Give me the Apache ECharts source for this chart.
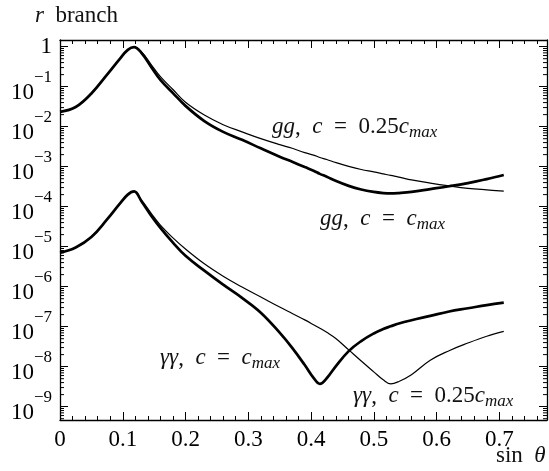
<!DOCTYPE html>
<html>
<head>
<meta charset="utf-8">
<script src="https://cdn.jsdelivr.net/npm/echarts@6/dist/echarts.min.js"></script>
<style>
  html, body { margin: 0; padding: 0; background: #fff; }
  #chart { width: 549px; height: 471px; }
</style>
</head>
<body>
<div id="chart"></div>
<script>
// sin(theta) samples, shared by all four curves
const sinTheta = [0, 0.025, 0.05, 0.075, 0.095, 0.108, 0.118, 0.13, 0.145, 0.16,
  0.18, 0.2, 0.23, 0.26, 0.29, 0.32, 0.35, 0.37, 0.39, 0.404,
  0.414, 0.425, 0.44, 0.46, 0.48, 0.5, 0.515, 0.527, 0.54, 0.56,
  0.59, 0.62, 0.65, 0.68, 0.7071]

// gg, c = c_max (thick)
const ggCmax = [2.34e-2, 3.1e-2, 6.76e-2, 0.2, 0.49, 0.832, 0.977, 0.692, 0.316, 0.148,
  6.92e-2, 3.31e-2, 1.38e-2, 7.41e-3, 4.68e-3, 2.88e-3, 1.78e-3, 1.32e-3, 9.77e-4, 7.94e-4,
  6.61e-4, 5.62e-4, 4.37e-4, 3.31e-4, 2.69e-4, 2.34e-4, 2.19e-4, 2.14e-4, 2.19e-4, 2.34e-4,
  2.75e-4, 3.24e-4, 3.89e-4, 4.90e-4, 6.17e-4]

// gg, c = 0.25 c_max (thin)
const ggQuarter = [2.34e-2, 3.1e-2, 6.76e-2, 0.2, 0.49, 0.832, 0.977, 0.741, 0.363, 0.178,
  8.51e-2, 4.07e-2, 1.95e-2, 1.12e-2, 7.41e-3, 5.01e-3, 3.55e-3, 2.88e-3, 2.24e-3, 1.95e-3,
  1.70e-3, 1.51e-3, 1.26e-3, 1.02e-3, 8.51e-4, 7.41e-4, 6.61e-4, 6.03e-4, 5.50e-4, 4.68e-4,
  3.89e-4, 3.31e-4, 2.88e-4, 2.63e-4, 2.45e-4]

// γγ, c = c_max (thick)
const yyCmax = [7.08e-6, 9.55e-6, 1.74e-5, 4.79e-5, 1.17e-4, 2.0e-4, 2.4e-4, 1.35e-4, 6.03e-5, 2.95e-5,
  1.26e-5, 5.89e-6, 2.51e-6, 1.12e-6, 5.25e-7, 2.24e-7, 7.08e-8, 2.95e-8, 1.10e-8, 5.25e-9,
  3.72e-9, 5.13e-9, 1.05e-8, 2.45e-8, 4.37e-8, 6.76e-8, 8.71e-8, 1.02e-7, 1.20e-7, 1.45e-7,
  1.86e-7, 2.40e-7, 2.88e-7, 3.47e-7, 3.98e-7]

// γγ, c = 0.25 c_max (thin)
const yyQuarter = [7.08e-6, 9.55e-6, 1.74e-5, 4.79e-5, 1.17e-4, 2.0e-4, 2.4e-4, 1.45e-4, 6.92e-5, 3.47e-5,
  1.66e-5, 8.71e-6, 3.72e-6, 1.82e-6, 9.77e-7, 5.50e-7, 3.09e-7, 2.14e-7, 1.48e-7, 1.12e-7,
  9.12e-8, 7.24e-8, 5.01e-8, 2.63e-8, 1.38e-8, 7.41e-9, 4.68e-9, 3.72e-9, 4.27e-9, 6.31e-9,
  1.45e-8, 2.51e-8, 3.89e-8, 5.75e-8, 7.59e-8]

const xMin = 0
const xMax = 0.776
const yMin = 4.64e-10
const yMax = 1.468
const minorMantissas = [2, 3, 4, 5, 6, 7, 8, 9]
const decades = [-10, -9, -8, -7, -6, -5, -4, -3, -2, -1, 0]

const FONT = 'Liberation Serif'
const INK = '#000'
const TEXT = '#111'

const pairs = (ys) => sinTheta.map((x, i) => [x, ys[i]])

// minor log ticks (2..9 x 10^n) inside the frame, placed through the y scale
const minorTicks = []
decades.forEach((d) => minorMantissas.forEach((m) => {
  const v = m * Math.pow(10, d)
  if (v > yMin && v < yMax) minorTicks.push([xMin, v])
}))

const xAxisBase = (position, interval, len, main) => ({
  type: 'value',
  position,
  min: xMin,
  max: xMax,
  interval,
  axisLine: { show: main, onZero: false, lineStyle: { color: INK, width: 1.3 } },
  axisTick: { show: true, inside: true, length: len, lineStyle: { color: INK, width: 1 } },
  axisLabel: { show: false },
  splitLine: { show: false }
})

const yAxisBase = (position) => ({
  type: 'log',
  logBase: 10,
  position,
  min: yMin,
  max: yMax,
  splitNumber: 10,
  axisLine: { show: true, onZero: false, lineStyle: { color: INK, width: 1.3 } },
  axisTick: { show: true, inside: true, length: 8, lineStyle: { color: INK, width: 1 } },
  axisLabel: { show: false },
  splitLine: { show: false },
  minorTick: { show: false }
})

const bottomMain = xAxisBase('bottom', 0.1, 8, true)
bottomMain.axisLabel = {
  show: true,
  fontFamily: FONT,
  fontSize: 23,
  color: INK,
  margin: 8,
  showMaxLabel: false,
  formatter: (v) => (Math.abs(v * 10 - Math.round(v * 10)) < 1e-6 ? String(+v.toFixed(1)) : '')
}

const leftAxis = yAxisBase('left')
leftAxis.axisLabel = {
  show: true,
  margin: 8,
  showMinLabel: false,
  showMaxLabel: false,
  formatter: (v) => {
    const p = Math.log10(v)
    const e = Math.round(p)
    if (Math.abs(p - e) > 1e-6) return ''
    if (e === 0) return '{one|1}'
    return '{b|10}{e|\u2212' + (-e) + '}'
  },
  rich: {
    one: { fontFamily: FONT, fontSize: 23, color: INK },
    b: { fontFamily: FONT, fontSize: 23, color: INK, lineHeight: 36, verticalAlign: 'bottom' },
    e: { fontFamily: FONT, fontSize: 17, color: INK, lineHeight: 36, verticalAlign: 'top' }
  }
}

const style = (size, italic, lineHeight, valign) => ({
  fontFamily: FONT,
  fontSize: size,
  fontStyle: italic ? 'italic' : 'normal',
  lineHeight,
  verticalAlign: valign,
  fill: TEXT,
  color: TEXT
})

const mathRich = {
  i: style(23, true, 26, 'top'),
  r: style(23, false, 26, 'top'),
  s: style(17, true, 16, 'bottom')
}

const note = (text, left, top) => ({
  type: 'text',
  left,
  top,
  silent: true,
  style: { text, rich: mathRich, font: '23px "' + FONT + '"', fill: TEXT }
})

const chart = echarts.init(document.getElementById('chart'))

chart.setOption({
  animation: false,
  backgroundColor: '#fff',
  grid: { left: 60, right: 2, top: 40, bottom: 51 },
  xAxis: [
    bottomMain,
    xAxisBase('bottom', 0.02, 4, false),
    xAxisBase('top', 0.1, 8, true),
    xAxisBase('top', 0.02, 4, false)
  ],
  yAxis: [leftAxis, yAxisBase('right')],
  series: [
    {
      name: 'gg, c = c_max',
      type: 'line',
      data: pairs(ggCmax),
      showSymbol: false,
      smooth: 0.4,
      lineStyle: { color: INK, width: 2.7 }
    },
    {
      name: 'gg, c = 0.25c_max',
      type: 'line',
      data: pairs(ggQuarter),
      showSymbol: false,
      smooth: 0.4,
      lineStyle: { color: INK, width: 1.2 }
    },
    {
      name: 'γγ, c = c_max',
      type: 'line',
      data: pairs(yyCmax),
      showSymbol: false,
      smooth: 0.4,
      lineStyle: { color: INK, width: 2.7 }
    },
    {
      name: 'γγ, c = 0.25c_max',
      type: 'line',
      data: pairs(yyQuarter),
      showSymbol: false,
      smooth: 0.4,
      lineStyle: { color: INK, width: 1.2 }
    },
    {
      type: 'custom',
      silent: true,
      clip: false,
      data: minorTicks,
      renderItem: (params, api) => {
        const v = api.value(1)
        const l = api.coord([xMin, v])
        const r = api.coord([xMax, v])
        return {
          type: 'group',
          children: [
            { type: 'line', shape: { x1: l[0], y1: l[1], x2: l[0] + 4, y2: l[1] }, style: { stroke: INK, lineWidth: 1 } },
            { type: 'line', shape: { x1: r[0], y1: r[1], x2: r[0] - 4, y2: r[1] }, style: { stroke: INK, lineWidth: 1 } }
          ]
        }
      }
    }
  ],
  graphic: [
    note('{i|r}  {r|branch}', 35, 4),
    note('{r|sin}  {i|θ}', 496, 444),
    note('{i|gg},  {i|c}  {r|=}  {r|0.25}{i|c}{s|max}', 272, 115),
    note('{i|gg},  {i|c}  {r|=}  {i|c}{s|max}', 320, 207),
    note('{i|γγ},  {i|c}  {r|=}  {i|c}{s|max}', 160, 346),
    note('{i|γγ},  {i|c}  {r|=}  {r|0.25}{i|c}{s|max}', 353, 384)
  ]
})
</script>
</body>
</html>
